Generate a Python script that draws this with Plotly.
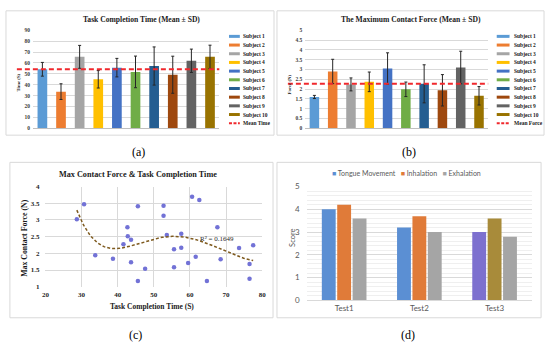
import numpy as np
import plotly.graph_objects as go

W, H = 550, 349

# ---------------- data ----------------
subjects = [f"Subject {i}" for i in range(1, 11)]
subject_colors = ['#5B9BD5', '#ED7D31', '#A5A5A5', '#FFC000', '#4472C4',
                  '#70AD47', '#255E91', '#9E480E', '#636363', '#997300']

time_mean = [54.2, 33.7, 65.6, 45.0, 55.7, 51.8, 57.2, 49.2, 62.0, 65.6]
time_sd = [6.3, 7.2, 10.5, 8.0, 8.5, 14.5, 17.5, 17.0, 10.7, 10.7]
mean_time = 54.2

force_mean = [1.60, 2.90, 2.24, 2.37, 3.05, 1.99, 2.27, 1.94, 3.10, 1.66]
force_sd = [0.08, 0.62, 0.33, 0.50, 0.80, 0.37, 0.97, 0.80, 0.83, 0.47]
mean_force = 2.28

scatter_time = [28.7, 30.7, 33.8, 38.7, 41.6, 42.7, 42.8, 43.7, 43.7, 45.6,
                45.6, 47.6, 52.7, 52.7, 53.6, 55.6, 55.6, 57.6, 57.6, 59.5,
                60.6, 61.6, 62.6, 64.7, 67.6, 68.5, 73.6, 76.5, 76.5, 77.5]
scatter_force = [3.02, 3.47, 1.94, 1.84, 2.27, 2.78, 2.51, 2.41, 1.73, 3.41,
                 1.17, 1.54, 3.43, 3.13, 2.55, 2.12, 1.58, 2.59, 2.17, 1.71,
                 3.70, 1.90, 3.60, 1.17, 2.78, 1.82, 2.16, 1.68, 1.24, 2.24]
trend_degree = 5
r2_label = "R² = 0.1649"

tests = ['Test1', 'Test2', 'Test3']
tongue = [4.0, 3.2, 3.0]
inhalation = [4.2, 3.7, 3.6]
exhalation = [3.6, 3.0, 2.8]
score_series = ['Tongue Movement', 'Inhalation', 'Exhalation']
score_colors = ['#5B8FD3', '#E07B39', '#A5A5A5']


def px(x):
    return x / W


def py(y):
    return 1 - y / H


SERIF = 'Liberation Serif'
SANS = 'Lato'

fig = go.Figure()

# ---------------- (a) task completion time ----------------
fig.add_trace(go.Bar(
    x=subjects, y=time_mean, width=0.52,
    marker=dict(color=subject_colors, line=dict(width=0)),
    error_y=dict(type='data', array=time_sd, color='#262626', thickness=1, width=1.5),
    xaxis='x', yaxis='y', showlegend=False))

# ---------------- (b) max contact force ----------------
fig.add_trace(go.Bar(
    x=subjects, y=force_mean, width=0.52,
    marker=dict(color=subject_colors, line=dict(width=0)),
    error_y=dict(type='data', array=force_sd, color='#262626', thickness=1, width=1.5),
    xaxis='x2', yaxis='y2', showlegend=False))

# ---------------- (c) scatter + polynomial trend ----------------
fig.add_trace(go.Scatter(
    x=scatter_time, y=scatter_force, mode='markers',
    marker=dict(color='#7272D6', size=4.5),
    xaxis='x3', yaxis='y3', showlegend=False))
coef = np.polyfit(scatter_time, scatter_force, trend_degree)
tx = np.linspace(min(scatter_time), max(scatter_time), 150)
fig.add_trace(go.Scatter(
    x=tx, y=np.polyval(coef, tx), mode='lines',
    line=dict(color='#7E5A1E', width=1.5, dash='3px,2px'),
    xaxis='x3', yaxis='y3', showlegend=False))

# ---------------- (d) scores ----------------
bar3_colors = [
    ['#5B8FD3', '#5B8FD3', '#7D70CF'],
    ['#E07B39', '#E07B39', '#A88B3A'],
    ['#A5A5A5', '#A5A5A5', '#A5A5A5'],
]
for name, vals, cols in zip(score_series, [tongue, inhalation, exhalation], bar3_colors):
    fig.add_trace(go.Bar(
        x=tests, y=vals, name=name, marker=dict(color=cols, line=dict(width=0)),
        xaxis='x4', yaxis='y4', showlegend=False))

# ---------------- axes ----------------
grid = '#D9D9D9'
tf_small = dict(family=SERIF, size=5.5, color='#404040', weight='bold')
tf_c = dict(family=SERIF, size=7, color='#262626', weight='bold')
tf_d = dict(family=SANS, size=8, color='#595959')

fig.update_layout(
    width=W, height=H, margin=dict(l=0, r=0, t=0, b=0),
    paper_bgcolor='white', plot_bgcolor='white',
    barmode='group', bargap=0.386, bargroupgap=0.1,
    xaxis=dict(domain=[px(29.5), px(218.5)], anchor='y', showticklabels=False,
               showline=True, linecolor='#BFBFBF', linewidth=1, ticks='', showgrid=False),
    yaxis=dict(domain=[py(127), py(26)], anchor='x', range=[0, 90], dtick=10,
               gridcolor=grid, gridwidth=0.8, zeroline=False, tickfont=tf_small,
               ticks='', ticklabelstandoff=2),
    xaxis2=dict(domain=[px(305.7), px(491.3)], anchor='y2', showticklabels=False,
                showline=True, linecolor='#BFBFBF', linewidth=1, ticks='', showgrid=False),
    yaxis2=dict(domain=[py(127), py(26)], anchor='x2', range=[0, 5], dtick=0.5,
                gridcolor=grid, gridwidth=0.8, zeroline=False, tickfont=tf_small,
                ticks='', ticklabelstandoff=2),
    xaxis3=dict(domain=[px(42), px(262)], anchor='y3', range=[20, 80], dtick=10,
                gridcolor=grid, gridwidth=0.8, zeroline=False, tickfont=tf_c,
                ticks='', ticklabelstandoff=2, showline=False),
    yaxis3=dict(domain=[py(290), py(187)], anchor='x3', range=[1, 4], dtick=0.5,
                gridcolor=grid, gridwidth=0.8, zeroline=False, tickfont=tf_c,
                ticks='', ticklabelstandoff=5, showline=False),
    xaxis4=dict(domain=[px(307), px(536)], anchor='y4', tickfont=tf_d,
                showline=True, linecolor=grid, linewidth=1, ticks='', showgrid=False),
    yaxis4=dict(domain=[py(304), py(187)], anchor='x4', range=[0, 5], dtick=1,
                gridcolor=grid, gridwidth=1, zeroline=False, tickfont=tf_d,
                ticks='', ticklabelstandoff=6,
                minor=dict(dtick=0.2, showgrid=True, gridcolor='#EFEFEF', gridwidth=0.8)),
)

shapes = []
annotations = []

# panel frames
for x0, y0, x1, y1 in [(2, 6, 274, 134), (277, 6, 548, 134), (6, 162, 273, 322), (277, 162, 545, 322)]:
    shapes.append(dict(type='rect', xref='paper', yref='paper', x0=px(x0), x1=px(x1),
                       y0=py(y1), y1=py(y0), line=dict(color='#D9D9D9', width=1),
                       fillcolor='rgba(0,0,0,0)', layer='below'))

# mean lines
shapes.append(dict(type='line', xref='x domain', yref='y', x0=-0.087, x1=1.0,
                   y0=mean_time, y1=mean_time,
                   line=dict(color='#F0282D', width=2, dash='5px,3px')))
shapes.append(dict(type='line', xref='x2 domain', yref='y2', x0=-0.095, x1=1.0,
                   y0=mean_force, y1=mean_force,
                   line=dict(color='#F0282D', width=2, dash='5px,3px')))


def add_text(x, y, text, size, family=SERIF, bold=True, color='#1a1a1a',
             xanchor='center', yanchor='middle', angle=0):
    annotations.append(dict(
        x=px(x), y=py(y), xref='paper', yref='paper', text=text, showarrow=False,
        xanchor=xanchor, yanchor=yanchor, textangle=angle,
        font=dict(family=family, size=size, color=color, weight='bold' if bold else 'normal')))


# titles
add_text(140, 15, "Task Completion Time (Mean ± SD)", 7.6)
add_text(413, 15, "The Maximum Contact Force (Mean ± SD)", 7.6)
add_text(136, 174, "Max Contact Force & Task Completion Time", 8.2)
add_text(15, 80, "Time (S)", 4.8, angle=-90)
add_text(290, 82, "Force (N)", 4.8, angle=-90)
add_text(20, 240, "Max Contact Force (N)", 7.8, angle=-90)
add_text(150, 310, "Task Completion Time (S)", 7.5)
add_text(292, 240, "Score", 7.5, family=SANS, bold=False, color='#595959', angle=-90)

# R^2 label
annotations.append(dict(x=62.3, y=2.43, xref='x3', yref='y3', text=r2_label,
                        showarrow=False, xanchor='left', yanchor='middle',
                        font=dict(family=SERIF, size=7, color='#262626')))

# legends for (a) and (b)
for (sx0, sx1, tx0, mean_name) in [(228.3, 239.3, 241, 'Mean Time'), (500, 513, 515, 'Mean Force')]:
    for k in range(len(subjects) + 1):
        yk = 32.3 + k * 8.94
        if k < len(subjects):
            shapes.append(dict(type='line', xref='paper', yref='paper', x0=px(sx0), x1=px(sx1),
                               y0=py(yk), y1=py(yk), line=dict(color=subject_colors[k], width=3)))
            label = subjects[k]
        else:
            shapes.append(dict(type='line', xref='paper', yref='paper', x0=px(sx0), x1=px(sx1),
                               y0=py(yk), y1=py(yk),
                               line=dict(color='#F0282D', width=2, dash='3px,1.5px')))
            label = mean_name
        add_text(tx0, yk, label, 5.5, xanchor='left')

# legend for (d)
legend_parts = []
for name, col in zip(score_series, score_colors):
    legend_parts.append(f"<span style='color:{col}'>■</span> {name}")
add_text(408, 173, "   ".join(legend_parts), 7, family=SANS, bold=False, color='#595959')

# panel labels
add_text(136, 151, "(a)", 12, bold=False, color='#000000')
add_text(411, 151, "(b)", 12, bold=False, color='#000000')
add_text(133, 340, "(c)", 12, bold=False, color='#000000')
add_text(410, 340, "(d)", 12, bold=False, color='#000000')

fig.update_layout(shapes=shapes, annotations=annotations)
fig.write_html("out.html", config={'displayModeBar': False},
               post_script="document.body.style.margin='0';")
